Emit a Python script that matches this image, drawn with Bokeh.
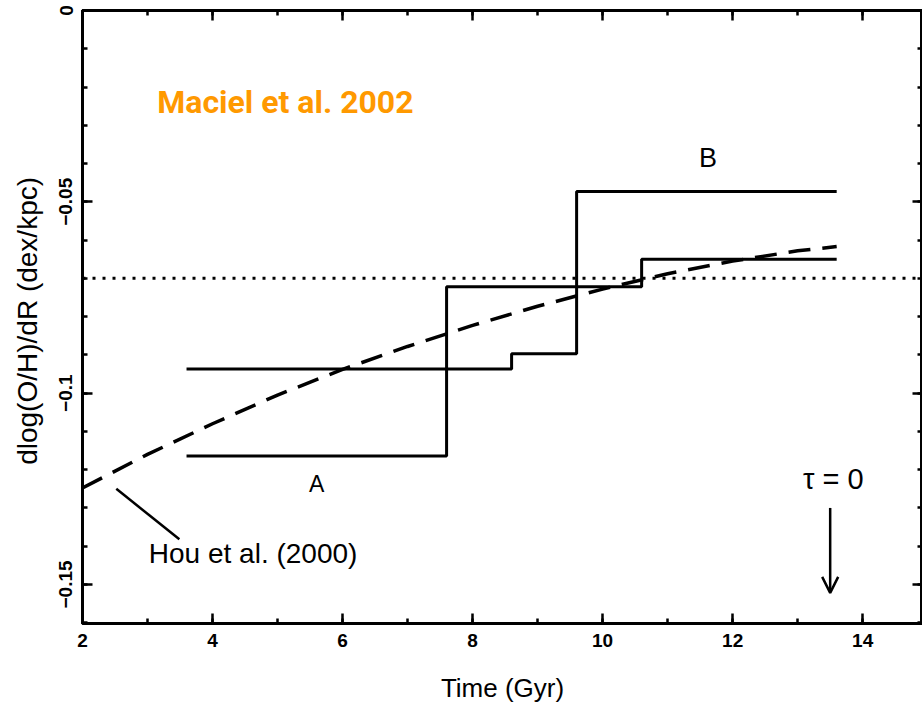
import numpy as np
from bokeh.plotting import figure
from bokeh.models import (LinearAxis, FixedTicker, Span, Label, Arrow, OpenHead)
from bokeh.embed import file_html
from bokeh.resources import INLINE

# ---- data ----
x_ticks = [2, 4, 6, 8, 10, 12, 14]
x_minor = [2, 3, 4, 5, 6, 7, 8, 9, 10, 11, 12, 13, 14, 15]
y_ticks = [-0.15, -0.1, -0.05, 0.0]
y_tick_labels = ["\u22120.15", "\u22120.1", "\u22120.05", "0"]
y_minor = [-0.16, -0.15, -0.14, -0.13, -0.12, -0.11, -0.10, -0.09, -0.08,
           -0.07, -0.06, -0.05, -0.04, -0.03, -0.02, -0.01, 0.0]

# Model A (step history): bin edges in Gyr and gradients
a_edges = [3.6, 7.6, 10.6, 13.6]
a_grad = [-0.1164, -0.0722, -0.0650]
# Model B
b_edges = [3.6, 8.6, 9.6, 13.6]
b_grad = [-0.0937, -0.0897, -0.0473]

# Hou et al. (2000) model
hou_t = [2, 3, 4, 5, 6, 7, 8, 9, 10, 11, 12, 13, 13.6]
hou_grad = [-0.1248, -0.1160, -0.1080, -0.1005, -0.0938, -0.0878, -0.0823,
            -0.0773, -0.0728, -0.0688, -0.0655, -0.0628, -0.0617]

# present-day reference gradient
present_grad = -0.070
tau0_time = 13.5


def steps(edges, vals):
    xs, ys = [], []
    for i, v in enumerate(vals):
        xs += [edges[i], edges[i + 1]]
        ys += [v, v]
    return xs, ys


p = figure(width=922, height=714, x_range=(2, 14.92), y_range=(-0.1602, 0),
           output_backend="svg", toolbar_location=None,
           x_axis_location=None, y_axis_location=None,
           min_border_left=82, min_border_top=10, min_border_right=0,
           min_border_bottom=91)
p.grid.visible = False
p.outline_line_color = "black"
p.outline_line_width = 3
p.background_fill_color = "white"
p.border_fill_color = "white"

tick_font = "Liberation Sans"


def style_axis(ax, ticks, labels=True):
    ax.axis_line_width = 3
    ax.major_tick_in = 10
    ax.major_tick_out = 0
    ax.minor_tick_in = 5
    ax.minor_tick_out = 0
    ax.major_tick_line_width = 2.5
    ax.minor_tick_line_width = 2.5
    if labels:
        ax.major_label_text_font = tick_font
        ax.major_label_text_font_style = "bold"
        ax.major_label_text_font_size = "19px"
        ax.major_label_text_color = "black"
    else:
        ax.major_label_overrides = {t: "" for t in ticks}
        ax.major_label_text_color = None
        ax.major_label_text_font_size = "1px"
        ax.major_label_standoff = 0


xb = LinearAxis(ticker=FixedTicker(ticks=x_ticks, minor_ticks=x_minor))
style_axis(xb, x_ticks)
xb.major_label_standoff = 10
xb.axis_label = "Time (Gyr)"
xb.axis_label_text_font = tick_font
xb.axis_label_text_font_style = "normal"
xb.axis_label_text_font_size = "26px"
xb.axis_label_text_color = "black"
xb.axis_label_standoff = 23
p.add_layout(xb, "below")

xt = LinearAxis(ticker=FixedTicker(ticks=x_ticks, minor_ticks=x_minor))
style_axis(xt, x_ticks, labels=False)
p.add_layout(xt, "above")

yl = LinearAxis(ticker=FixedTicker(ticks=y_ticks, minor_ticks=y_minor))
style_axis(yl, y_ticks)
yl.major_label_overrides = {t: s for t, s in zip(y_ticks, y_tick_labels)}
yl.major_label_orientation = "vertical"
yl.major_label_standoff = 10
yl.axis_label = "dlog(O/H)/dR  (dex/kpc)"
yl.axis_label_text_font = tick_font
yl.axis_label_text_font_style = "normal"
yl.axis_label_text_font_size = "28px"
yl.axis_label_text_color = "black"
yl.axis_label_standoff = 14
p.add_layout(yl, "left")

yr = LinearAxis(ticker=FixedTicker(ticks=y_ticks, minor_ticks=y_minor))
style_axis(yr, y_ticks, labels=False)
p.add_layout(yr, "right")

# present-day gradient (dotted)
p.add_layout(Span(location=present_grad, dimension="width", line_color="black",
                  line_width=3, line_dash="3 7"))

# Hou et al. curve (dashed)
p.line(hou_t, hou_grad, line_color="black", line_width=3.5, line_dash="22 12")

# step models
ax_, ay_ = steps(a_edges, a_grad)
bx_, by_ = steps(b_edges, b_grad)
p.line(ax_, ay_, line_color="black", line_width=3)
p.line(bx_, by_, line_color="black", line_width=3)

# leader line for Hou label
p.line([2.52, 3.49], [-0.1250, -0.1382], line_color="black", line_width=2.5)

# arrow for tau = 0
p.add_layout(Arrow(end=OpenHead(size=16, line_width=2.5), x_start=tau0_time,
                   y_start=-0.130, x_end=tau0_time, y_end=-0.1522,
                   line_width=2.5, line_color="black"))

p.add_layout(Label(x=3.15, y=-0.0239, text="Maciel et al. 2002",
                   text_font="Roboto", text_font_style="bold",
                   text_font_size="32px", text_color="#FF9900",
                   text_baseline="alphabetic"))
p.add_layout(Label(x=11.62, y=-0.0385, text="B", text_font=tick_font,
                   text_font_size="27px", text_align="center",
                   text_baseline="middle", text_color="black"))
p.add_layout(Label(x=5.6, y=-0.1238, text="A", text_font=tick_font,
                   text_font_size="23px", text_align="center",
                   text_baseline="middle", text_color="black"))
p.add_layout(Label(x=3.02, y=-0.1418, text="Hou et al. (2000)",
                   text_font=tick_font, text_font_size="28px",
                   text_align="left", text_baseline="middle",
                   text_color="black"))
p.add_layout(Label(x=13.55, y=-0.1224, text="\u03c4 = 0",
                   text_font=tick_font, text_font_size="29px",
                   text_align="center", text_baseline="middle",
                   text_color="black"))

open("out.html", "w").write(file_html(p, INLINE))
